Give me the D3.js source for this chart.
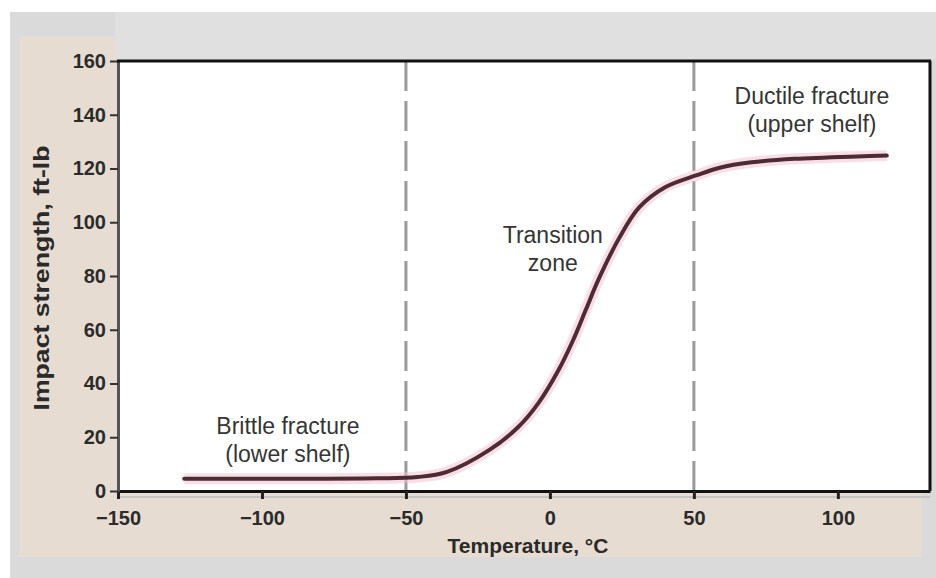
<!DOCTYPE html>
<html>
<head>
<meta charset="utf-8">
<script src="https://cdn.jsdelivr.net/npm/d3@7"></script>
<style>
  body { margin: 0; background: #fff; }
  svg { display: block; font-family: "Liberation Sans", Arial, sans-serif; }
</style>
</head>
<body>
<div id="chart"></div>
<script>
// curve: temperature (°C) -> impact strength (ft-lb)
const temps    = [-127, -90, -60, -46, -36, -21, -11, -4, 3, 8, 12.5, 17, 24, 31, 40, 51, 59, 70, 85, 117];
const strength = [4.6, 4.6, 4.7, 5.2, 7, 15.3, 23.8, 32.7, 45, 56, 67.5, 79, 94, 105.5, 113, 117.5, 120.3, 122.3, 123.6, 124.8];
const xTicks = [-150, -100, -50, 0, 50, 100];
const yTicks = [0, 20, 40, 60, 80, 100, 120, 140, 160];
const zoneBounds = [-50, 50];
const noteText = [
  ['Brittle fracture', '(lower shelf)'],
  ['Transition', 'zone'],
  ['Ductile fracture', '(upper shelf)']
];

const W = 936, H = 578;
const PLOT = { LEFT: 118, RIGHT: 930, TOP: 61, BOTTOM: 491 };

const svg = d3.select('#chart').append('svg')
  .attr('width', W)
  .attr('height', H);

// backdrop: grey frame, beige panel, grey band over the plot
svg.append('rect').attr('x', 10).attr('y', 12).attr('width', W - 10).attr('height', H - 12).attr('fill', '#dadada');
svg.append('rect').attr('x', 19).attr('y', 36).attr('width', 903).attr('height', 521).attr('fill', '#e7dcd1');
svg.append('rect').attr('x', 115).attr('y', 12).attr('width', W - 115).attr('height', 47).attr('fill', '#e0e0e0');
svg.append('rect')
  .attr('x', PLOT.LEFT).attr('y', PLOT.TOP)
  .attr('width', PLOT.RIGHT - PLOT.LEFT).attr('height', PLOT.BOTTOM - PLOT.TOP)
  .attr('fill', '#fff');

const x = d3.scaleLinear().domain([-150, 132]).range([PLOT.LEFT, PLOT.RIGHT]);
const y = d3.scaleLinear().domain([0, 160]).range([PLOT.BOTTOM, PLOT.TOP]);

// dashed zone boundaries
svg.selectAll('.zone')
  .data(zoneBounds)
  .enter().append('line')
    .attr('x1', d => x(d)).attr('x2', d => x(d))
    .attr('y1', y(160)).attr('y2', y(0))
    .attr('stroke', '#9a9a9a')
    .attr('stroke-width', 3)
    .attr('stroke-dasharray', '30,10');

// faint shadow under the x axis
svg.append('line')
  .attr('x1', PLOT.LEFT).attr('x2', PLOT.RIGHT)
  .attr('y1', PLOT.BOTTOM + 6).attr('y2', PLOT.BOTTOM + 6)
  .attr('stroke', '#c4c4c4').attr('stroke-width', 2);

// axes
const xAxis = svg.append('g')
  .attr('transform', `translate(0, ${PLOT.BOTTOM})`)
  .call(d3.axisBottom(x).tickValues(xTicks).tickSize(8).tickSizeOuter(0).tickPadding(12));
xAxis.select('.domain').attr('stroke', '#111').attr('stroke-width', 3);
xAxis.selectAll('.tick line').attr('stroke', '#222').attr('stroke-width', 3);

const yAxis = svg.append('g')
  .attr('transform', `translate(${PLOT.LEFT}, 0)`)
  .call(d3.axisLeft(y).tickValues(yTicks).tickSize(8).tickSizeOuter(0).tickPadding(4));
yAxis.select('.domain').attr('stroke', '#555').attr('stroke-width', 3);
yAxis.selectAll('.tick line').attr('stroke', '#333').attr('stroke-width', 2);

svg.selectAll('.tick text')
  .attr('font-size', 20)
  .attr('font-weight', 'bold')
  .attr('fill', '#2b2b2b')
  .attr('font-family', '"Liberation Sans", Arial, sans-serif');

// top and right frame lines
svg.append('line')
  .attr('x1', PLOT.LEFT - 1).attr('x2', PLOT.RIGHT + 1)
  .attr('y1', PLOT.TOP).attr('y2', PLOT.TOP)
  .attr('stroke', '#111').attr('stroke-width', 3);
svg.append('line')
  .attr('x1', PLOT.RIGHT).attr('x2', PLOT.RIGHT)
  .attr('y1', PLOT.TOP).attr('y2', PLOT.BOTTOM)
  .attr('stroke', '#111').attr('stroke-width', 3);

// the curve, with a soft pink halo
const pts = temps.map((t, i) => [t, strength[i]]);
const line = d3.line()
  .x(d => x(d[0]))
  .y(d => y(d[1]))
  .curve(d3.curveCatmullRom.alpha(0.5));

svg.append('path')
  .attr('d', line(pts))
  .attr('fill', 'none')
  .attr('stroke', '#f3c3d2')
  .attr('stroke-width', 11)
  .attr('stroke-opacity', 0.55);
svg.append('path')
  .attr('d', line(pts))
  .attr('fill', 'none')
  .attr('stroke', '#4e2a33')
  .attr('stroke-width', 4)
  .attr('stroke-linecap', 'round');

// annotations (centre temperature, baseline strength of the first line)
const noteAt = [[-91, 21.2], [1, 92.3], [91, 144]];
noteText.forEach((lines, i) => {
  const t = svg.append('text')
    .attr('text-anchor', 'middle')
    .attr('font-size', 23)
    .attr('fill', '#353535');
  lines.forEach((s, j) => {
    t.append('tspan')
      .attr('x', x(noteAt[i][0]))
      .attr('y', y(noteAt[i][1]) + j * 28)
      .text(s);
  });
});

// axis titles
svg.append('text')
  .attr('x', 528)
  .attr('y', 553)
  .attr('text-anchor', 'middle')
  .attr('font-size', 21)
  .attr('font-weight', 'bold')
  .attr('fill', '#2a2a2a')
  .text('Temperature, °C');

svg.append('text')
  .attr('transform', 'translate(49, 278) rotate(-90)')
  .attr('text-anchor', 'middle')
  .attr('font-size', 22)
  .attr('font-weight', 'bold')
  .attr('fill', '#2a2a2a')
  .attr('textLength', 265)
  .attr('lengthAdjust', 'spacingAndGlyphs')
  .text('Impact strength, ft-lb');
</script>
</body>
</html>
